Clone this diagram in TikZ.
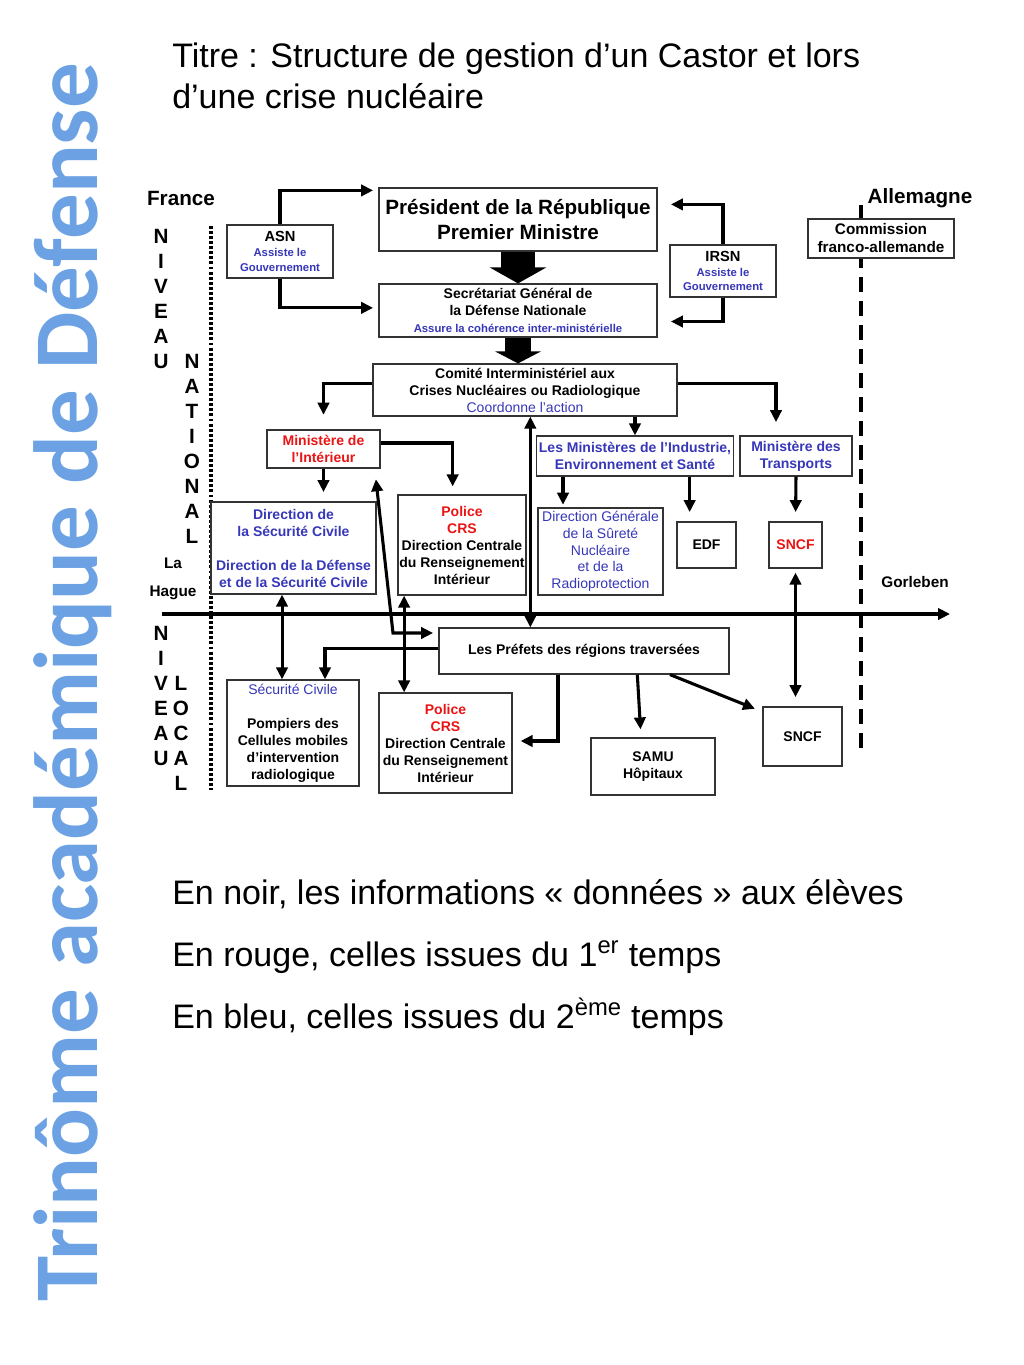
\documentclass[tikz,border=0pt]{standalone}
\usepackage{fontspec}
\setmainfont{Liberation Sans}
\newfontfamily\bandeau{Carlito}
\usetikzlibrary{arrows.meta,positioning,calc}
\definecolor{bleutxt}{RGB}{55,55,185}
\definecolor{rougetxt}{RGB}{235,20,20}
\definecolor{bleubandeau}{RGB}{108,162,228}

\begin{document}
\begin{tikzpicture}[x=0.75pt,y=-0.75pt,>={Triangle[length=9pt,width=8.5pt]},
 boite/.style={draw=black!80,line width=0.9pt,fill=white,align=center,inner sep=1pt,font=\fontsize{10.5}{12.75}\selectfont\bfseries},
 taille/.style 2 args={minimum width=0.75pt*#1,minimum height=0.75pt*#2},
 fleche/.style={->,line width=2.3pt},
 lettres/.style={align=center,font=\fontsize{15.5}{18.75}\selectfont\bfseries},
 grand/.style={anchor=base west,inner sep=0pt,font=\fontsize{25.5}{31}\selectfont}]
\useasboundingbox (0,0) rectangle (1024,1365);
% bandeau et textes
\node[rotate=90,anchor=base,text=bleubandeau,font=\bandeau\bfseries\fontsize{68.3}{70}\selectfont] (bandeau) at (97,682) {Trinôme académique de Défense};
\node[grand] (titre1) at (172,67) {Titre : Structure de gestion d’un Castor et lors};
\node[grand] (titre2) at (172,108) {d’une crise nucléaire};
\node[grand] (legende1) at (172,904) {En noir, les informations « données » aux élèves};
\node[grand] (legende2) at (172,966) {En rouge, celles issues du 1\textsuperscript{er} temps};
\node[grand] (legende3) at (172,1028) {En bleu, celles issues du 2\textsuperscript{ème} temps};
% frontieres
\coordinate (pointH) at (211,226); \coordinate (pointB) at (211,790);
\draw[line width=2.4pt,dash pattern=on 2.2pt off 1.6pt] (pointH) -- (pointB);
\coordinate (tiretH) at (861,205); \coordinate (tiretB) at (861,757);
\draw[line width=2.3pt,dash pattern=on 11pt off 7pt] (tiretH) -- (tiretB);
\coordinate (ligneG) at (162,614); \coordinate (ligneD) at (950,614);
\draw[fleche] (ligneG) -- (ligneD);
\node[font=\fontsize{15.5}{18}\selectfont\bfseries] (france) at (181,198) {France};
\node[font=\fontsize{15.5}{18}\selectfont\bfseries] (allemagne) at (920,198) {Allemagne};
\node[font=\fontsize{11.5}{14}\selectfont\bfseries] (gorleben) at (915,582) {Gorleben};
\node[font=\fontsize{11.5}{14}\selectfont\bfseries] (la) at (173,563) {La};
\node[font=\fontsize{11.5}{14}\selectfont\bfseries] (hague) at (173,593) {Hague};
\node[lettres] (niveau1) at (161,299) {N\\I\\V\\E\\A\\U};
\node[lettres] (national) at (192,449) {N\\A\\T\\I\\O\\N\\A\\L};
\node[lettres] (niveau2) at (161,696) {N\\I\\V\\E\\A\\U};
\node[lettres] (local) at (181,733) {L\\O\\C\\A\\L};
% niveau national
\node[boite,taille={278}{63},font=\fontsize{15.5}{18.75}\selectfont\bfseries] (pres) at (518,219.5) {Président de la République\\Premier Ministre};
\node[boite,taille={106}{53},text=bleutxt,font=\fontsize{8.5}{11}\selectfont\bfseries] (asn) at (280,251.5) {\textcolor{black}{\fontsize{11}{13}\selectfont ASN}\\Assiste le\\Gouvernement};
\node[boite,taille={106}{52},text=bleutxt,font=\fontsize{8.5}{11}\selectfont\bfseries] (irsn) at (723,271) {\textcolor{black}{\fontsize{11}{13}\selectfont IRSN}\\Assiste le\\Gouvernement};
\node[boite,taille={278}{53}] (sgdn) at (518,310.5) {Secrétariat Général de\\la Défense Nationale\\\textcolor{bleutxt}{\fontsize{8.5}{10}\selectfont Assure la cohérence inter-ministérielle}};
\node[boite,taille={146}{39},font=\fontsize{11.5}{13.5}\selectfont\bfseries] (commission) at (881,238.5) {Commission\\franco-allemande};
\node[boite,taille={304}{52}] (cicnr) at (525,390) {Comité Interministériel aux\\Crises Nucléaires ou Radiologique\\\textcolor{bleutxt}{\mdseries Coordonne l’action}};
\node[boite,taille={113}{38},text=rougetxt] (minint) at (323.5,449) {Ministère de\\l’Intérieur};
\node[boite,taille={165}{92},text=bleutxt] (dsc) at (293.5,548) {Direction de\\la Sécurité Civile\\[12.75pt]Direction de la Défense\\et de la Sécurité Civile};
\node[boite,taille={126}{100}] (police1) at (462,545) {\textcolor{rougetxt}{Police}\\\textcolor{rougetxt}{CRS}\\Direction Centrale\\du Renseignement\\Intérieur};
\node[boite,taille={197}{40},text=bleutxt] (minind) at (635,456) {Les Ministères de l’Industrie,\\Environnement et Santé};
\node[boite,taille={112}{40},text=bleutxt] (mintr) at (796,456) {Ministère des\\Transports};
\node[boite,taille={125}{87},text=bleutxt,font=\fontsize{10.5}{12.5}\selectfont] (dgsnr) at (600.5,551.5) {Direction Générale\\de la Sûreté\\Nucléaire\\et de la\\Radioprotection};
\node[boite,taille={59}{46}] (edf) at (706.5,545) {EDF};
\node[boite,taille={53}{46},text=rougetxt] (sncf1) at (795.5,545) {SNCF};
% niveau local
\node[boite,taille={290}{46}] (prefets) at (584,651) {Les Préfets des régions traversées};
\node[boite,taille={132}{106}] (secciv) at (293,733) {\textcolor{bleutxt}{\mdseries Sécurité Civile}\\[12.75pt]Pompiers des\\Cellules mobiles\\d’intervention\\radiologique};
\node[boite,taille={133}{100}] (police2) at (445.5,743) {\textcolor{rougetxt}{Police}\\\textcolor{rougetxt}{CRS}\\Direction Centrale\\du Renseignement\\Intérieur};
\node[boite,taille={124}{57}] (samu) at (653,766.5) {SAMU\\Hôpitaux};
\node[boite,taille={79}{59}] (sncf2) at (802.5,736.5) {SNCF};
% fleches du haut
\draw[fleche,shorten >=4pt] (asn.north) |- ($(pres.north west)+(0,3)$);
\draw[fleche,shorten >=4pt] (asn.south) |- ([yshift=2pt]sgdn.west);
\draw[fleche,shorten >=10pt] (irsn.north) |- ($(pres.north east)+(0,17)$);
\draw[fleche,shorten >=10pt] (irsn.south) |- ($(sgdn.east)+(0,11)$);
\draw[line width=25pt,-{Triangle[length=12pt,width=42pt]}] (pres.south) -- (sgdn.north);
\draw[line width=19pt,-{Triangle[length=9pt,width=34pt]}] (sgdn.south) -- (sgdn.south |- cicnr.north);
% fleches du comite
\draw[fleche,shorten >=11pt] ([yshift=5pt]cicnr.west) -| (minint.north);
\draw[fleche,shorten >=10pt] ([yshift=5pt]cicnr.east) -| ([xshift=-15pt]mintr.north);
\draw[fleche] (minind.north |- cicnr.south) -- (minind.north);
\draw[fleche,<->] ([xshift=4pt]cicnr.south) -- ([xshift=4pt]cicnr.south |- prefets.north);
\draw[fleche,shorten >=7pt] (minint.south) -- (minint.south |- dsc.north);
\draw[fleche,shorten >=6pt] ([yshift=4.5pt]minint.east) -| ([xshift=-7pt]police1.north);
\draw[fleche,shorten >=2pt] ([xshift=-54pt]minind.south) -- ([xshift=-54pt]minind.south |- dgsnr.north);
\draw[fleche,shorten >=7pt] ([xshift=41pt]minind.south) -- ([xshift=41pt]minind.south |- edf.north);
\draw[fleche,shorten >=7pt] (mintr.south) -- (sncf1.north);
\draw[fleche,<->,shorten <=3pt,shorten >=7pt] (sncf1.south) -- (sncf1.south |- sncf2.north);
% fleches vers le niveau local
\coordinate (coude) at (393,633);
\draw[fleche,<->,shorten >=4pt,shorten <=2pt] ($(minint.south east)+(-5,8)$) -- (coude) -- (prefets.west |- coude);
\draw[fleche,<->] ([xshift=5pt]police1.south west) -- ([xshift=5pt]police1.south west |- police2.north);
\draw[fleche,<->] ([xshift=-8.6pt]dsc.south) -- ([xshift=-8.6pt]dsc.south |- secciv.north);
\draw[fleche] ([yshift=2pt]prefets.west) -| ([xshift=24pt]secciv.north);
\draw[fleche,shorten >=6pt] ([xshift=-19.5pt]prefets.south) |- ([yshift=1.5pt]police2.east);
\draw[fleche,shorten >=6pt] ([xshift=40pt]prefets.south) -- ([xshift=-9pt]samu.north);
\draw[fleche,shorten >=6pt] ([xshift=64.5pt]prefets.south) -- ([yshift=-4pt]sncf2.north west);
\end{tikzpicture}
\end{document}
